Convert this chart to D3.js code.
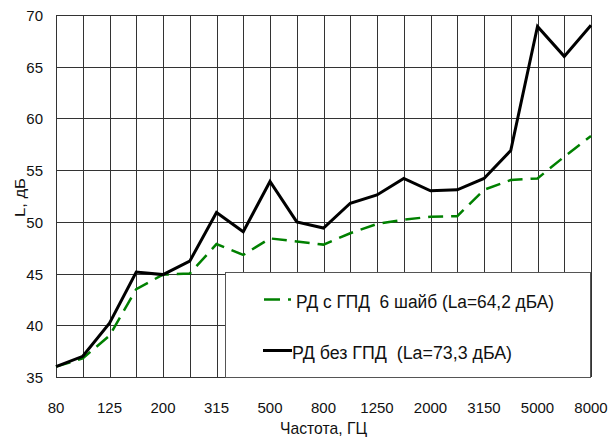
<!DOCTYPE html>
<html>
<head>
<meta charset="utf-8">
<script src="https://cdn.jsdelivr.net/npm/d3@7/dist/d3.min.js"></script>
<style>
  body { margin: 0; background: #fff; }
  svg { display: block; font-family: "Liberation Sans", Arial, sans-serif; }
  text { white-space: pre; }
</style>
</head>
<body>
<div id="chart"></div>
<script>
const freqs = ["80", "100", "125", "160", "200", "250", "315", "400", "500", "630", "800",
  "1000", "1250", "1600", "2000", "2500", "3150", "4000", "5000", "6300", "8000"];
const freqLabels = ["80", "125", "200", "315", "500", "800", "1250", "2000", "3150", "5000", "8000"];
const withGpd = [36.0, 36.8, 39.0, 43.5, 44.9, 45.0, 47.85, 46.8, 48.4, 48.1, 47.8,
  48.9, 49.8, 50.2, 50.5, 50.55, 53.1, 54.05, 54.2, 56.3, 58.3];
const noGpd = [36.0, 37.0, 40.2, 45.15, 44.9, 46.2, 50.9, 49.05, 53.9, 50.0, 49.4,
  51.8, 52.6, 54.2, 53.0, 53.1, 54.2, 56.9, 68.9, 66.0, 69.0];
const yTicks = [35, 40, 45, 50, 55, 60, 65, 70];
const legendLabels = ["РД с ГПД  6 шайб (La=64,2 дБА)", "РД без ГПД  (La=73,3 дБА)"];

const width = 610, height = 437;
const plotLeft = 56, plotRight = 591, plotTop = 15, plotBottom = 377;

const svg = d3.select("#chart").append("svg")
  .attr("width", width)
  .attr("height", height);

const x = d3.scalePoint().domain(freqs).range([plotLeft, plotRight]).padding(0);
const y = d3.scaleLinear().domain([35, 70]).range([plotBottom, plotTop]);

// grid
svg.append("g").selectAll("line").data(freqs).join("line")
  .attr("x1", d => Math.round(x(d)) + 0.5).attr("x2", d => Math.round(x(d)) + 0.5)
  .attr("y1", plotTop).attr("y2", plotBottom)
  .attr("stroke", "#333").attr("stroke-width", 1);

svg.append("g").selectAll("line").data(yTicks).join("line")
  .attr("x1", plotLeft).attr("x2", plotRight)
  .attr("y1", d => Math.round(y(d)) + 0.5).attr("y2", d => Math.round(y(d)) + 0.5)
  .attr("stroke", "#333").attr("stroke-width", 1);

// tick labels
svg.append("g").selectAll("text").data(yTicks).join("text")
  .attr("x", 43).attr("y", d => y(d) + 6)
  .attr("text-anchor", "end")
  .attr("font-size", 15).attr("fill", "#111")
  .text(d => d);

svg.append("g").selectAll("text").data(freqLabels).join("text")
  .attr("x", d => x(d)).attr("y", 413)
  .attr("text-anchor", "middle")
  .attr("font-size", 15).attr("fill", "#111")
  .text(d => d);

svg.append("text")
  .attr("x", 280).attr("y", 434)
  .attr("font-size", 17).attr("fill", "#111")
  .attr("textLength", 87).attr("lengthAdjust", "spacingAndGlyphs")
  .text("Частота, ГЦ");

svg.append("text")
  .attr("transform", "translate(24.5,217) rotate(-90)")
  .attr("font-size", 15).attr("fill", "#111")
  .attr("textLength", 39).attr("lengthAdjust", "spacingAndGlyphs")
  .text("L, дБ");

// lines
const line = d3.line().x((d, i) => x(freqs[i])).y(d => y(d));

svg.append("path").datum(withGpd)
  .attr("d", line).attr("fill", "none")
  .attr("stroke", "#008000").attr("stroke-width", 2.5)
  .attr("stroke-dasharray", "15,8");

svg.append("path").datum(noGpd)
  .attr("d", line).attr("fill", "none")
  .attr("stroke", "#000").attr("stroke-width", 3)
  .attr("stroke-linejoin", "miter");

// legend
const lg = svg.append("g");
lg.append("rect")
  .attr("x", 225.5).attr("y", 272.5).attr("width", 365).attr("height", 105)
  .attr("fill", "#fff").attr("stroke", "#555").attr("stroke-width", 1);

lg.append("line")
  .attr("x1", 264).attr("x2", 291).attr("y1", 299.5).attr("y2", 299.5)
  .attr("stroke", "#008000").attr("stroke-width", 2.5)
  .attr("stroke-dasharray", "16,8");
lg.append("text")
  .attr("x", 296).attr("y", 307.5)
  .attr("font-size", 18).attr("fill", "#111")
  .attr("textLength", 258).attr("lengthAdjust", "spacingAndGlyphs")
  .text(legendLabels[0]);

lg.append("line")
  .attr("x1", 263).attr("x2", 292).attr("y1", 350.5).attr("y2", 350.5)
  .attr("stroke", "#000").attr("stroke-width", 3);
lg.append("text")
  .attr("x", 292).attr("y", 358.5)
  .attr("font-size", 18).attr("fill", "#111")
  .attr("textLength", 220).attr("lengthAdjust", "spacingAndGlyphs")
  .text(legendLabels[1]);
</script>
</body>
</html>
